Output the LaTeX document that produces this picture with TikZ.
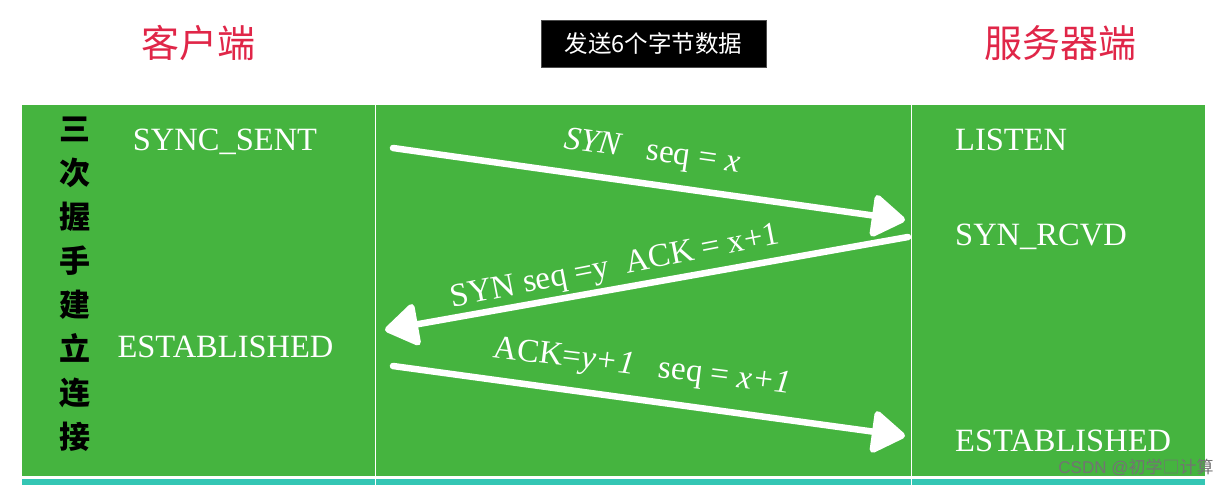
\documentclass[tikz,border=0pt]{standalone}
\usepackage{fontspec}
\setmainfont{Liberation Serif}
\newfontfamily\cjk{Noto Sans CJK SC}
\newfontfamily\marksans{Liberation Sans}
\usetikzlibrary{arrows.meta}
\tikzset{>={Triangle[length=36pt,width=46pt,round]}}
\definecolor{boardgreen}{RGB}{69,180,63}
\definecolor{stripteal}{RGB}{52,198,180}
\definecolor{headred}{RGB}{224,38,72}

\begin{document}
\begin{tikzpicture}[x=1pt,y=-1pt]
\tikzstyle{side} = [font=\cjk\fontsize{38}{38}\selectfont,text=headred]
\tikzstyle{state} = [font=\fontsize{32.5}{32.5}\selectfont,text=white,inner sep=0pt]
\tikzstyle{msg} = [font=\fontsize{33}{33}\selectfont,text=white,inner sep=0pt]
\tikzstyle{pkt} = [->,white,line width=6.5pt,line cap=round]
\useasboundingbox (0,0) rectangle (1229,485);
% board and columns
\fill[boardgreen] (22,105) rectangle (1205,476);
\fill[stripteal] (22,479) rectangle (1205,485);
\draw[white,line width=1pt] (375,105) -- (375,485) (911,105) -- (911,485);
% headers
\node[side] (client) at (198,43) {客户端};
\node[side] (server) at (1060,43) {服务器端};
\node[fill=black,draw=black!70,text=white,font=\cjk\fontsize{23.5}{23.5}\selectfont,minimum width=225pt,minimum height=47pt,inner sep=0pt] (title) at (653.5,43.5) {发送6个字节数据};
\node[font=\cjk\bfseries\fontsize{31}{44}\selectfont,align=center] (steps) at (75,284) {三\\次\\握\\手\\建\\立\\连\\接};
% states
\node[state,anchor=base] (csent) at (225,150) {SYNC\_SENT};
\node[state,anchor=base] (cest) at (225.5,357) {ESTABLISHED};
\node[state,anchor=base west] (slisten) at (955,150) {LISTEN};
\node[state,anchor=base west] (srcvd) at (955,245) {SYN\_RCVD};
\node[state,anchor=base west] (sest) at (955,451) {ESTABLISHED};
% packets
\coordinate (c1) at (393,148);
\coordinate (s1) at (905,220);
\coordinate (s2) at (908,237);
\coordinate (c2) at (385,330);
\coordinate (c3) at (393,366);
\coordinate (s3) at (905,436);
\draw[pkt] (c1) -- (s1);
\draw[pkt] (s2) -- (c2);
\draw[pkt] (c3) -- (s3);
\node[msg,rotate=-8] (syn) at (652,153) {\textit{SYN}\ \ \ seq = \textit{x}};
\node[msg,rotate=11] (synack) at (615,268) {SYN seq =y\ \ ACK = x+1};
\node[msg,rotate=-7] (ack) at (642,368) {ACK=\textit{y+1}\ \ \ seq = \textit{x+1}};
\node[font=\marksans\fontsize{17}{17}\selectfont,text=black!55] (mark) at (1136,467) {CSDN @{\cjk 初学□计算}};
\end{tikzpicture}
\end{document}
